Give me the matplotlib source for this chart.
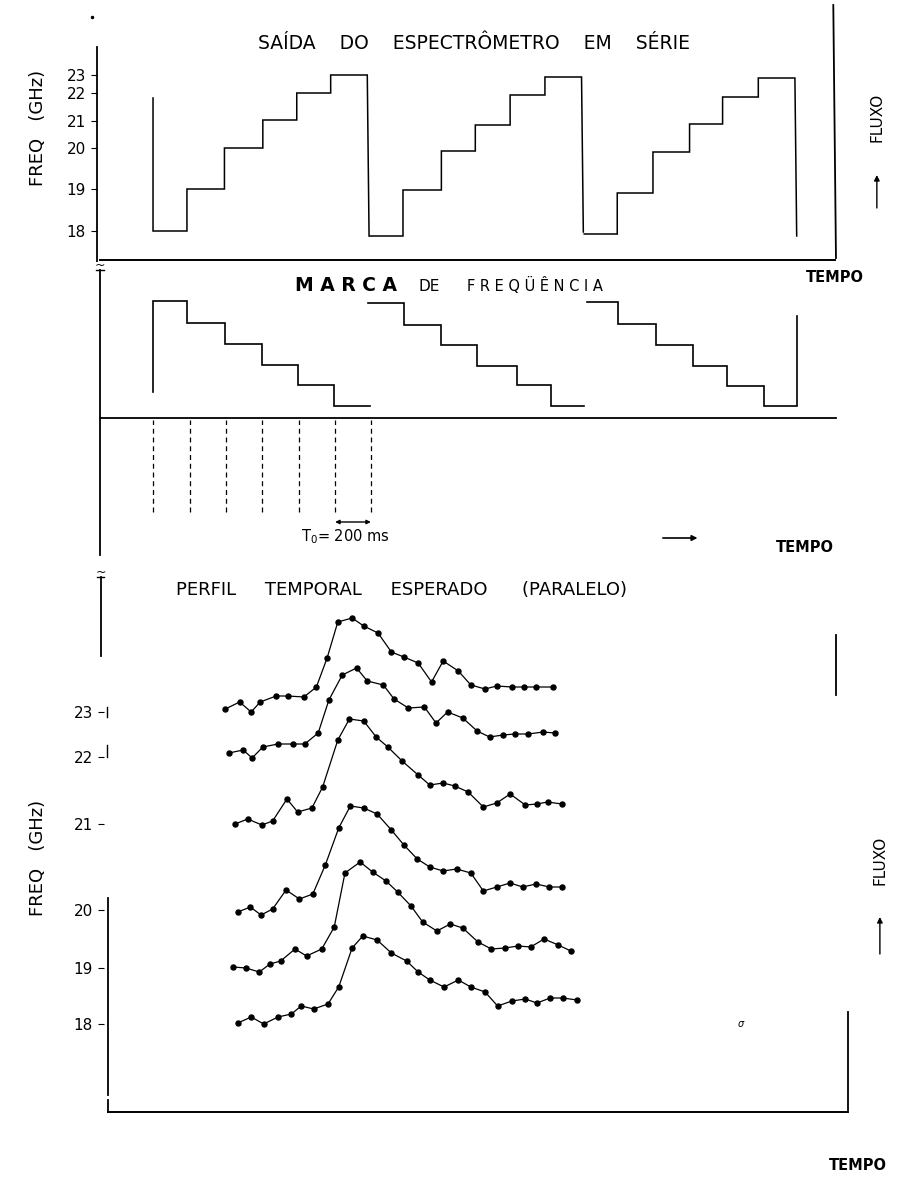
import numpy as np
import matplotlib
matplotlib.use('Agg')
import matplotlib.pyplot as plt

plt.rcParams['font.family'] = ['DejaVu Sans']

FREQS = [18, 19, 20, 21, 22, 23]

# serial spectrometer output: step edges (ms) and output level of each step
SERIE_EDGES = [
    [0, 190, 400, 615, 805, 995, 1200],
    [1215, 1400, 1615, 1805, 2000, 2195, 2400],
    [2415, 2600, 2800, 3005, 3190, 3390, 3595],
]
SERIE_LEVELS = [
    [29, 71, 112, 140, 167, 185],
    [24, 70, 109, 135, 165, 183],
    [26, 67, 108, 136, 163, 182],
]
SERIE_START = 162
SERIE_DROP = [24, 28, 24]
SERIE_TICKS = [29, 71, 112, 139, 167, 185]

# frequency marker staircase
MARCA_EDGES = [
    [0, 190, 405, 610, 810, 1015, 1215],
    [1205, 1405, 1615, 1815, 2040, 2230, 2415],
    [2430, 2605, 2815, 3025, 3215, 3420, 3605],
]
MARCA_LEVELS = [
    [117, 95, 74, 53, 33, 12],
    [115, 93, 73, 52, 33, 12],
    [116, 94, 73, 52, 32, 12],
]
MARCA_START = 26
MARCA_END = 102
MARCA_GATES = [0, 205, 410, 610, 820, 1020, 1220]

# expected time profiles (parallel), baseline per channel and flux samples
PERFIL_BASE = {18: 88, 19: 144, 20: 202, 21: 288, 22: 355, 23: 400}
PERFIL_T = {
    23: [405, 485, 550, 600, 690, 755, 845, 915, 975, 1035, 1115, 1180, 1260,
         1335, 1405, 1485, 1560, 1625, 1710, 1780, 1860, 1925, 2010, 2080,
         2145, 2240],
    22: [425, 505, 555, 615, 700, 785, 850, 925, 985, 1060, 1140, 1200, 1290,
         1350, 1430, 1520, 1585, 1650, 1735, 1815, 1885, 1960, 2025, 2100,
         2185, 2250],
    21: [460, 530, 610, 670, 750, 810, 890, 950, 1035, 1100, 1180, 1250, 1315,
         1395, 1485, 1550, 1625, 1690, 1765, 1850, 1925, 2000, 2085, 2150,
         2210, 2290],
    20: [475, 545, 605, 670, 745, 820, 895, 965, 1040, 1105, 1180, 1255, 1335,
         1405, 1480, 1550, 1625, 1700, 1780, 1850, 1925, 2000, 2070, 2145,
         2220, 2290],
    19: [450, 520, 595, 655, 715, 795, 860, 945, 1015, 1075, 1160, 1230, 1305,
         1370, 1445, 1510, 1590, 1665, 1735, 1820, 1895, 1970, 2045, 2115,
         2190, 2270, 2340],
    18: [475, 550, 620, 700, 775, 830, 900, 980, 1040, 1115, 1175, 1255, 1335,
         1420, 1485, 1550, 1630, 1710, 1780, 1860, 1930, 2010, 2085, 2150,
         2225, 2295, 2375],
}
PERFIL_FLUX = {
    23: [3, 10, 0, 10, 16, 16, 15, 25, 54, 90, 94, 86, 79, 60, 55, 49, 30, 51,
         41, 27, 23, 26, 25, 25, 25, 25],
    22: [4, 7, -1, 10, 13, 13, 13, 24, 57, 82, 89, 76, 72, 58, 49, 50, 34, 45,
         39, 26, 20, 22, 23, 23, 25, 24],
    21: [0, 5, -1, 3, 25, 12, 16, 37, 84, 105, 103, 87, 77, 63, 49, 39, 41, 38,
         32, 17, 21, 30, 19, 20, 22, 20],
    20: [-2, 3, -5, 1, 20, 11, 16, 45, 82, 104, 102, 96, 80, 65, 51, 43, 39,
         41, 37, 19, 23, 27, 23, 26, 23, 23],
    19: [1, 0, -4, 4, 7, 19, 12, 19, 41, 95, 106, 96, 87, 76, 62, 46, 37, 44,
         40, 26, 19, 20, 22, 21, 29, 23, 17],
    18: [1, 7, 0, 7, 10, 18, 15, 20, 37, 76, 88, 84, 71, 63, 52, 44, 37, 44,
         37, 32, 18, 23, 25, 21, 26, 26, 24],
}

W, H = 899, 1177
XLIM = (-857, 4178)
INK = 'black'


def panel(fig, top, bottom, ylim):
    """Full-width axes between two heights (pixels from the top)."""
    ax = fig.add_axes([0, 1 - bottom / H, 1, (bottom - top) / H])
    ax.set_xlim(*XLIM)
    ax.set_ylim(*ylim)
    ax.patch.set_alpha(0)
    for s in ax.spines.values():
        s.set_visible(False)
    ax.set_xticks([])
    ax.set_yticks([])
    return ax


def staircase(edges, levels):
    xs = np.repeat(edges, 2)[1:-1]
    ys = np.repeat(levels, 2)
    return list(xs), list(ys)


def freq_ticks(ax, xpos, levels, labels):
    ax.spines['left'].set_position(('data', xpos))
    ax.set_yticks(levels, labels)
    ax.tick_params(axis='y', length=4, width=0.8, pad=4, labelsize=11,
                   direction='out')


def up_arrow(ax, x, y0, y1):
    ax.annotate('', xy=(x, y1), xytext=(x, y0),
                arrowprops=dict(arrowstyle='-|>', color=INK, lw=1,
                                mutation_scale=8, shrinkA=0, shrinkB=0))


fig = plt.figure(figsize=(W / 100, H / 100), dpi=100)
fig.patch.set_facecolor('white')

# ---- serial output -------------------------------------------------------
ax1 = panel(fig, 0, 262, (-2, 260))
for i, (edges, levels) in enumerate(zip(SERIE_EDGES, SERIE_LEVELS)):
    xs, ys = staircase(edges, levels)
    if i == 0:
        xs = [edges[0]] + xs
        ys = [SERIE_START] + ys
    xs = xs + [edges[-1] + 10]
    ys = ys + [SERIE_DROP[i]]
    ax1.plot(xs, ys, color=INK, lw=1.1, solid_joinstyle='miter')

freq_ticks(ax1, -314, SERIE_TICKS, [str(f) for f in FREQS])
ax1.plot([-314, -314], [-2, 213], color=INK, lw=1.3)
ax1.plot([-340], [243], marker='.', ms=3, color=INK)
ax1.plot([-297, 3819], [0, 0], color=INK, lw=1.4)
ax1.plot([3810, 3825], [255, 2], color=INK, lw=1.3)
ax1.text(1800, 211, 'SAÍDA    DO    ESPECTRÔMETRO    EM    SÉRIE',
         ha='center', va='baseline', fontsize=13.5)
ax1.text(-644, 132, 'FREQ   (GHz)', rotation=90, ha='center', va='center',
         fontsize=13)
ax1.text(4054, 143, 'FLUXO', rotation=90, ha='center', va='center',
         fontsize=11)
up_arrow(ax1, 4054, 52, 85)
ax1.text(3819, -18, 'TEMPO', ha='center', va='center', fontsize=10.5,
         fontweight='bold', clip_on=False)

# ---- frequency marker ----------------------------------------------------
ax2 = panel(fig, 262, 560, (-142, 156))
for i, (edges, levels) in enumerate(zip(MARCA_EDGES, MARCA_LEVELS)):
    xs, ys = staircase(edges, levels)
    if i == 0:
        xs = [edges[0]] + xs
        ys = [MARCA_START] + ys
    if i == len(MARCA_EDGES) - 1:
        xs = xs + [edges[-1]]
        ys = ys + [MARCA_END]
    ax2.plot(xs, ys, color=INK, lw=1.2, solid_joinstyle='miter')

ax2.plot([-297, 3825], [0, 0], color=INK, lw=1.3)
ax2.plot([-297, -297], [148, -137], color=INK, lw=1.3, clip_on=False)
ax2.plot([-320, -275], [148, 148], color=INK, lw=1)
ax2.text(-300, 153, '~', ha='center', va='center', fontsize=9)
ax2.vlines(MARCA_GATES, -94, -2, colors=INK, lw=0.9, linestyles=(0, (4, 3)))
ax2.annotate('', xy=(MARCA_GATES[-2], -104), xytext=(MARCA_GATES[-1], -104),
             arrowprops=dict(arrowstyle='<|-|>', color=INK, lw=1,
                             mutation_scale=6, shrinkA=0, shrinkB=0))
ax2.text(1075, -119, 'T$_0$= 200 ms', ha='center', va='center',
         fontsize=10.5)
ax2.annotate('', xy=(3065, -120), xytext=(2840, -120),
             arrowprops=dict(arrowstyle='-|>', color=INK, lw=1.2,
                             mutation_scale=8))
ax2.text(3651, -130, 'TEMPO', ha='center', va='center', fontsize=10.5,
         fontweight='bold')
ax2.text(1080, 127, 'M A R C A', ha='center', va='baseline', fontsize=13.5,
         fontweight='bold')
ax2.text(1546, 127, 'DE', ha='center', va='baseline', fontsize=11)
ax2.text(2139, 127, 'F R E Q Ü Ê N C I A', ha='center', va='baseline',
         fontsize=10.5)

# ---- expected time profiles ----------------------------------------------
ax3 = panel(fig, 560, 1177, (-65, 552))
for f in FREQS:
    t = np.array(PERFIL_T[f])
    y = PERFIL_BASE[f] + np.array(PERFIL_FLUX[f])
    ax3.plot(t, y, color=INK, lw=0.9, marker='o', ms=3.6)

freq_ticks(ax3, -274, [PERFIL_BASE[f] for f in FREQS],
           [str(f) for f in FREQS])
ax3.plot([-291, -291], [535, 456], color=INK, lw=1.3)
ax3.plot([-312, -272], [535, 535], color=INK, lw=1)
ax3.text(-294, 540, '~', ha='center', va='center', fontsize=9)
ax3.plot([-257, -257], [405, 395], color=INK, lw=1)
ax3.plot([-257, -257], [367, 355], color=INK, lw=1)
ax3.plot([-252, -252], [214, 17], color=INK, lw=1.3)
ax3.plot([-252, -252], [12, 0], color=INK, lw=1.3)
ax3.plot([-252, 3892], [0, 0], color=INK, lw=1.4)
ax3.plot([3892, 3892], [100, 2], color=INK, lw=1.3)
ax3.plot([3824, 3824], [477, 417], color=INK, lw=1.3)
ax3.text(3290, 88, 'σ', ha='center', va='center', fontsize=7,
         style='italic')
ax3.text(1390, 517, 'PERFIL     TEMPORAL     ESPERADO      (PARALELO)',
         ha='center', va='baseline', fontsize=13)
ax3.text(-644, 254, 'FREQ   (GHz)', rotation=90, ha='center', va='center',
         fontsize=13)
ax3.text(4071, 252, 'FLUXO', rotation=90, ha='center', va='center',
         fontsize=11)
up_arrow(ax3, 4071, 158, 195)
ax3.text(3948, -53, 'TEMPO', ha='center', va='center', fontsize=10.5,
         fontweight='bold')

fig.savefig('out.png', dpi=100, facecolor='white')
